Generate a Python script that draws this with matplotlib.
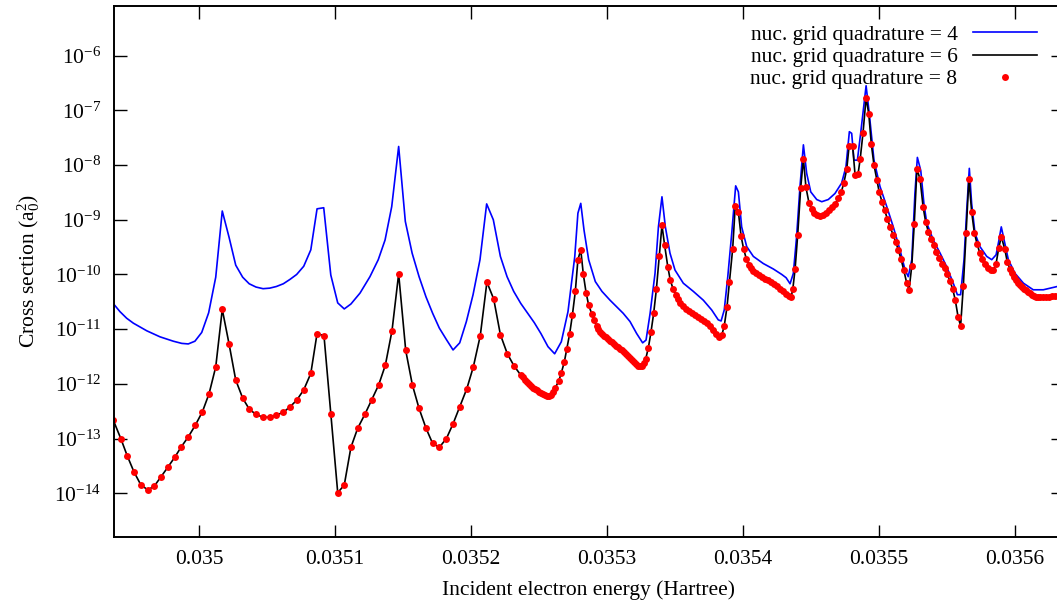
import numpy as np
import matplotlib
matplotlib.use('Agg')
from matplotlib import pyplot as plt
from matplotlib.ticker import FixedLocator, NullLocator

plt.rcParams['font.family'] = ['Liberation Serif', 'DejaVu Serif']
plt.rcParams['mathtext.fontset'] = 'custom'
plt.rcParams['mathtext.rm'] = 'Liberation Serif'
plt.rcParams['mathtext.it'] = 'Liberation Serif:italic'
plt.rcParams['font.size'] = 15.5

# nuc. grid quadrature = 4  (energy in Hartree, log10 of cross section)
energy_q4 = [
  0.0349369, 0.0349419, 0.0349468, 0.0349517, 0.0349616, 0.0349713, 0.0349811, 0.0349873,
  0.0349921, 0.0349970, 0.0350020, 0.0350071, 0.0350123, 0.0350171, 0.0350221, 0.0350270,
  0.0350321, 0.0350369, 0.0350419, 0.0350471, 0.0350520, 0.0350569, 0.0350620, 0.0350669,
  0.0350718, 0.0350770, 0.0350822, 0.0350868, 0.0350917, 0.0350969, 0.0351020, 0.0351068,
  0.0351117, 0.0351184, 0.0351257, 0.0351318, 0.0351368, 0.0351417, 0.0351468, 0.0351517,
  0.0351567, 0.0351618, 0.0351669, 0.0351718, 0.0351767, 0.0351819, 0.0351868, 0.0351917,
  0.0351966, 0.0352015, 0.0352066, 0.0352115, 0.0352164, 0.0352216, 0.0352265, 0.0352314,
  0.0352366, 0.0352414, 0.0352465, 0.0352514, 0.0352566, 0.0352615, 0.0352664, 0.0352713,
  0.0352763, 0.0352786, 0.0352807, 0.0352831, 0.0352865, 0.0352914, 0.0352963, 0.0353022,
  0.0353071, 0.0353119, 0.0353169, 0.0353218, 0.0353262, 0.0353287, 0.0353317, 0.0353353,
  0.0353378, 0.0353404, 0.0353429, 0.0353463, 0.0353500, 0.0353561, 0.0353635, 0.0353708,
  0.0353770, 0.0353818, 0.0353839, 0.0353862, 0.0353888, 0.0353917, 0.0353946, 0.0353966,
  0.0353990, 0.0354027, 0.0354076, 0.0354149, 0.0354223, 0.0354285, 0.0354317, 0.0354346,
  0.0354370, 0.0354394, 0.0354419, 0.0354444, 0.0354468, 0.0354498, 0.0354542, 0.0354579,
  0.0354627, 0.0354676, 0.0354725, 0.0354757, 0.0354782, 0.0354799, 0.0354816, 0.0354841,
  0.0354865, 0.0354905, 0.0354928, 0.0354963, 0.0355007, 0.0355057, 0.0355105, 0.0355154,
  0.0355192, 0.0355215, 0.0355241, 0.0355264, 0.0355282, 0.0355307, 0.0355330, 0.0355351,
  0.0355399, 0.0355449, 0.0355498, 0.0355546, 0.0355576, 0.0355600, 0.0355625, 0.0355645,
  0.0355664, 0.0355681, 0.0355706, 0.0355742, 0.0355792, 0.0355829, 0.0355861, 0.0355882,
  0.0355899, 0.0355920, 0.0355951, 0.0356000, 0.0356062, 0.0356134, 0.0356208, 0.0356309,
  0.0356353]
logcs_q4 = [
  -10.53, -10.68, -10.80, -10.89, -11.03, -11.14, -11.22, -11.26,
  -11.27, -11.22, -11.06, -10.70, -10.05, -8.84, -9.32, -9.83,
  -10.05, -10.17, -10.23, -10.26, -10.25, -10.22, -10.17, -10.09,
  -10.00, -9.85, -9.55, -8.80, -8.78, -10.01, -10.52, -10.63,
  -10.54, -10.34, -10.04, -9.73, -9.37, -8.76, -7.66, -9.03,
  -9.61, -10.04, -10.41, -10.71, -10.98, -11.19, -11.38, -11.25,
  -10.86, -10.37, -9.73, -8.71, -9.00, -9.67, -10.04, -10.31,
  -10.53, -10.70, -10.88, -11.08, -11.32, -11.45, -11.23, -10.68,
  -9.67, -8.88, -8.70, -9.19, -9.73, -10.13, -10.31, -10.47,
  -10.59, -10.71, -10.86, -11.08, -11.25, -11.20, -10.71, -9.98,
  -9.13, -8.58, -9.13, -9.61, -9.92, -10.16, -10.31, -10.47,
  -10.65, -10.83, -10.85, -10.65, -10.04, -9.25, -8.38, -8.49,
  -9.13, -9.49, -9.67, -9.80, -9.90, -10.00, -10.06, -10.17,
  -9.98, -9.31, -8.39, -7.63, -8.15, -8.49, -8.63, -8.67,
  -8.63, -8.52, -8.33, -8.03, -7.39, -7.42, -7.91, -7.91,
  -7.42, -6.55, -7.05, -7.91, -8.39, -8.76, -9.13, -9.55,
  -9.92, -10.04, -9.73, -8.52, -7.86, -8.10, -8.70, -9.06,
  -9.37, -9.61, -9.86, -10.16, -10.37, -10.37, -9.73, -8.82,
  -8.06, -8.70, -9.25, -9.49, -9.67, -9.73, -9.64, -9.37,
  -9.13, -9.37, -9.73, -9.98, -10.16, -10.28, -10.28, -10.22,
  -10.20]

# nuc. grid quadrature = 8
energy_q8 = [
  0.0349369, 0.0349425, 0.0349473, 0.0349522, 0.0349571, 0.0349623, 0.0349671, 0.0349720,
  0.0349772, 0.0349822, 0.0349870, 0.0349921, 0.0349972, 0.0350025, 0.0350074, 0.0350123,
  0.0350171, 0.0350221, 0.0350270, 0.0350321, 0.0350369, 0.0350419, 0.0350471, 0.0350520,
  0.0350569, 0.0350620, 0.0350669, 0.0350718, 0.0350770, 0.0350822, 0.0350868, 0.0350919,
  0.0350969, 0.0351020, 0.0351068, 0.0351117, 0.0351167, 0.0351221, 0.0351270, 0.0351321,
  0.0351370, 0.0351419, 0.0351468, 0.0351520, 0.0351569, 0.0351618, 0.0351669, 0.0351718,
  0.0351767, 0.0351819, 0.0351868, 0.0351917, 0.0351969, 0.0352017, 0.0352068, 0.0352117,
  0.0352167, 0.0352216, 0.0352267, 0.0352316, 0.0352366, 0.0352382, 0.0352397, 0.0352412,
  0.0352427, 0.0352442, 0.0352456, 0.0352471, 0.0352485, 0.0352500, 0.0352514, 0.0352529,
  0.0352544, 0.0352559, 0.0352574, 0.0352588, 0.0352603, 0.0352618, 0.0352645, 0.0352664,
  0.0352686, 0.0352704, 0.0352725, 0.0352745, 0.0352767, 0.0352786, 0.0352807, 0.0352826,
  0.0352846, 0.0352865, 0.0352888, 0.0352907, 0.0352924, 0.0352934, 0.0352949, 0.0352963,
  0.0352978, 0.0352992, 0.0353007, 0.0353022, 0.0353037, 0.0353051, 0.0353066, 0.0353081,
  0.0353096, 0.0353111, 0.0353125, 0.0353140, 0.0353155, 0.0353169, 0.0353183, 0.0353198,
  0.0353213, 0.0353228, 0.0353243, 0.0353257, 0.0353270, 0.0353285, 0.0353304, 0.0353323,
  0.0353343, 0.0353363, 0.0353384, 0.0353404, 0.0353424, 0.0353447, 0.0353465, 0.0353485,
  0.0353508, 0.0353522, 0.0353537, 0.0353559, 0.0353581, 0.0353603, 0.0353625, 0.0353647,
  0.0353669, 0.0353691, 0.0353714, 0.0353735, 0.0353757, 0.0353780, 0.0353801, 0.0353824,
  0.0353844, 0.0353862, 0.0353882, 0.0353900, 0.0353924, 0.0353943, 0.0353966, 0.0353986,
  0.0354005, 0.0354024, 0.0354044, 0.0354058, 0.0354076, 0.0354096, 0.0354118, 0.0354140,
  0.0354162, 0.0354184, 0.0354206, 0.0354228, 0.0354250, 0.0354272, 0.0354294, 0.0354317,
  0.0354338, 0.0354353, 0.0354366, 0.0354383, 0.0354402, 0.0354424, 0.0354444, 0.0354463,
  0.0354485, 0.0354505, 0.0354522, 0.0354544, 0.0354566, 0.0354589, 0.0354610, 0.0354633,
  0.0354655, 0.0354676, 0.0354701, 0.0354723, 0.0354742, 0.0354763, 0.0354780, 0.0354806,
  0.0354824, 0.0354846, 0.0354862, 0.0354882, 0.0354905, 0.0354925, 0.0354943, 0.0354963,
  0.0354984, 0.0355002, 0.0355022, 0.0355042, 0.0355061, 0.0355081, 0.0355103, 0.0355123,
  0.0355142, 0.0355162, 0.0355182, 0.0355203, 0.0355221, 0.0355241, 0.0355259, 0.0355279,
  0.0355302, 0.0355324, 0.0355343, 0.0355363, 0.0355383, 0.0355402, 0.0355421, 0.0355441,
  0.0355463, 0.0355483, 0.0355502, 0.0355522, 0.0355542, 0.0355561, 0.0355581, 0.0355600,
  0.0355620, 0.0355640, 0.0355661, 0.0355681, 0.0355701, 0.0355721, 0.0355740, 0.0355760,
  0.0355780, 0.0355801, 0.0355821, 0.0355841, 0.0355861, 0.0355880, 0.0355899, 0.0355925,
  0.0355943, 0.0355963, 0.0355978, 0.0355993, 0.0356007, 0.0356022, 0.0356037, 0.0356052,
  0.0356066, 0.0356081, 0.0356096, 0.0356111, 0.0356125, 0.0356139, 0.0356154, 0.0356169,
  0.0356184, 0.0356206, 0.0356228, 0.0356250, 0.0356272, 0.0356294, 0.0356316, 0.0356338]
logcs_q8 = [
  -12.66, -13.00, -13.32, -13.61, -13.84, -13.94, -13.87, -13.70,
  -13.52, -13.34, -13.15, -12.97, -12.76, -12.51, -12.18, -11.69,
  -10.64, -11.27, -11.93, -12.26, -12.46, -12.56, -12.61, -12.61,
  -12.57, -12.52, -12.42, -12.30, -12.11, -11.81, -11.08, -11.12,
  -12.55, -13.99, -13.85, -13.16, -12.81, -12.55, -12.29, -12.02,
  -11.66, -11.03, -9.99, -11.39, -12.02, -12.45, -12.81, -13.09,
  -13.16, -13.00, -12.73, -12.42, -12.09, -11.69, -11.12, -10.14,
  -10.45, -11.10, -11.45, -11.67, -11.84, -11.88, -11.93, -11.97,
  -12.00, -12.03, -12.07, -12.10, -12.12, -12.15, -12.17, -12.19,
  -12.21, -12.22, -12.22, -12.20, -12.15, -12.08, -11.95, -11.80,
  -11.60, -11.36, -11.09, -10.75, -10.31, -9.73, -9.55, -10.00,
  -10.33, -10.56, -10.72, -10.84, -10.95, -10.99, -11.05, -11.09,
  -11.12, -11.15, -11.18, -11.21, -11.24, -11.27, -11.30, -11.33,
  -11.36, -11.39, -11.42, -11.45, -11.49, -11.53, -11.56, -11.60,
  -11.64, -11.67, -11.68, -11.68, -11.62, -11.54, -11.34, -11.06,
  -10.71, -10.27, -9.67, -9.10, -9.47, -9.86, -10.10, -10.26,
  -10.38, -10.45, -10.52, -10.58, -10.63, -10.67, -10.70, -10.74,
  -10.77, -10.81, -10.85, -10.89, -10.95, -11.02, -11.09, -11.14,
  -11.11, -10.94, -10.60, -10.14, -9.53, -8.74, -8.86, -9.30,
  -9.54, -9.71, -9.82, -9.88, -9.93, -9.97, -10.01, -10.05,
  -10.08, -10.11, -10.14, -10.18, -10.21, -10.26, -10.30, -10.35,
  -10.40, -10.42, -10.27, -9.90, -9.28, -8.42, -7.89, -8.41,
  -8.69, -8.81, -8.87, -8.91, -8.93, -8.92, -8.88, -8.83,
  -8.77, -8.71, -8.61, -8.49, -8.32, -8.07, -7.65, -7.66,
  -8.18, -8.16, -7.88, -7.42, -6.77, -7.07, -7.61, -8.00,
  -8.27, -8.50, -8.67, -8.83, -8.98, -9.13, -9.27, -9.41,
  -9.55, -9.72, -9.92, -10.15, -10.28, -9.84, -9.08, -8.07,
  -8.26, -8.76, -9.04, -9.22, -9.36, -9.47, -9.59, -9.70,
  -9.80, -9.89, -10.00, -10.12, -10.27, -10.47, -10.77, -10.94,
  -10.21, -9.25, -8.25, -8.85, -9.24, -9.44, -9.60, -9.72,
  -9.81, -9.88, -9.92, -9.92, -9.80, -9.52, -9.31, -9.54,
  -9.77, -9.90, -9.98, -10.05, -10.10, -10.15, -10.19, -10.23,
  -10.26, -10.29, -10.32, -10.34, -10.37, -10.39, -10.41, -10.42,
  -10.42, -10.42, -10.42, -10.41, -10.40, -10.40, -10.39, -10.38]

# nuc. grid quadrature = 6 lies on top of quadrature = 8 at this scale
energy_q6 = energy_q8
logcs_q6 = logcs_q8

xticks = [0.035, 0.0351, 0.0352, 0.0353, 0.0354, 0.0355, 0.0356]
ydecades = [-6, -7, -8, -9, -10, -11, -12, -13, -14]

fig = plt.figure(figsize=(10.57, 6.04), dpi=100)
ax = fig.add_axes([0.1076, 0.1109, 0.8981, 0.8797])

ax.plot(energy_q4, 10.0 ** np.array(logcs_q4), '-', color='#0000ff', lw=1.2,
        label='nuc. grid quadrature = 4')
ax.plot(energy_q6, 10.0 ** np.array(logcs_q6), '-', color='black', lw=1.2,
        label='nuc. grid quadrature = 6')
ax.plot(energy_q8, 10.0 ** np.array(logcs_q8), 'o', color='#ff0000', ms=5.0, mew=0,
        label='nuc. grid quadrature = 8')

ax.set_yscale('log')
ax.set_xlim(0.0349373, 0.0356353)
ax.set_ylim(10 ** -14.80, 10 ** -5.086)

ax.set_xticks(xticks)
ax.set_xticklabels(['%g' % v for v in xticks])
ax.yaxis.set_major_locator(FixedLocator([10.0 ** d for d in ydecades]))
ax.yaxis.set_minor_locator(NullLocator())
ax.set_yticklabels([r'$\mathregular{10^{%d}}$' % d for d in ydecades])

ax.tick_params(direction='in', top=True, right=True, length=9, width=1.0)
ax.tick_params(axis='x', pad=9)
ax.tick_params(axis='y', pad=9)
for s in ax.spines.values():
  s.set_linewidth(1.4)

ax.set_xlabel('Incident electron energy (Hartree)')
ax.xaxis.set_label_coords(0.5, -0.081)
ax.set_ylabel(r'Cross section ($\mathregular{a_0^2}$)')
ax.yaxis.set_label_coords(-0.0760, 0.5)

ax.legend(loc='upper right', bbox_to_anchor=(1048 / 1057., 1 - 14 / 604.),
          bbox_transform=fig.transFigure, frameon=False, markerfirst=False,
          numpoints=1, borderpad=0, labelspacing=0.1, handlelength=3.0,
          handletextpad=0.7, fontsize=15.5)

fig.savefig('out.png', dpi=100)
